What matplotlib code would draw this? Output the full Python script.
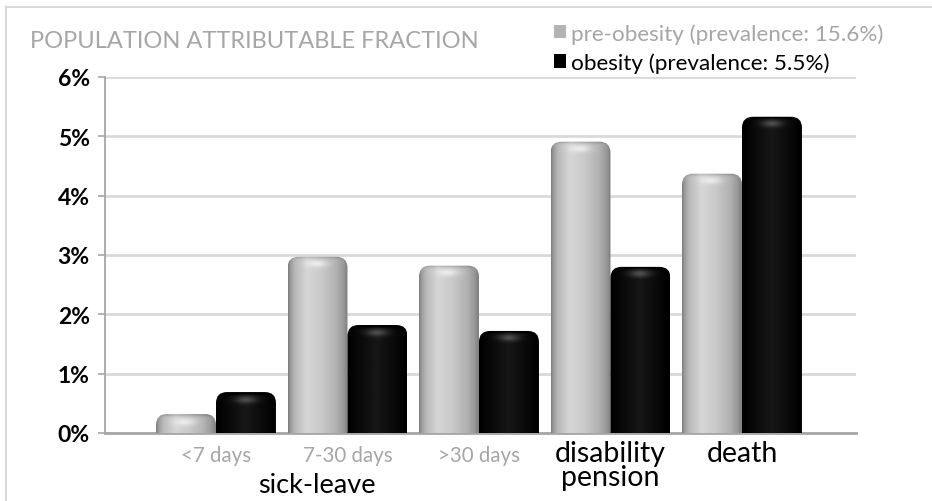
import numpy as np
import matplotlib
matplotlib.use('Agg')
import matplotlib.pyplot as plt
from matplotlib.patches import FancyBboxPatch, Patch
from matplotlib.lines import Line2D
import matplotlib.transforms as mtransforms

# ---- data ----
categories = ['<7 days', '7-30 days', '>30 days', 'disability\npension', 'death']
pre_obesity = [0.32, 2.97, 2.82, 4.91, 4.37]
obesity = [0.69, 1.82, 1.72, 2.80, 5.33]
yticks = [0, 1, 2, 3, 4, 5, 6]
ytick_labels = ['0%', '1%', '2%', '3%', '4%', '5%', '6%']
title = 'POPULATION ATTRIBUTABLE FRACTION'
legend_labels = ['pre-obesity (prevalence: 15.6%)', 'obesity (prevalence: 5.5%)']
group_label = 'sick-leave'

plt.rcParams['font.family'] = ['Lato', 'DejaVu Sans']

W, H = 932, 502
fig = plt.figure(figsize=(W / 100, H / 100), dpi=100)
ax = fig.add_axes([105 / W, 1 - 434 / H, (856 - 105) / W, (434 - 78) / H])

x = np.arange(len(categories))
w = 0.456
bars_pre = ax.bar(x - w / 2, pre_obesity, w, color='none', edgecolor='none')
bars_ob = ax.bar(x + w / 2, obesity, w, color='none', edgecolor='none')

ax.set_xlim(-0.844, 4.867)
ax.set_ylim(0, 6)

# pixel scales
fig.canvas.draw()
p0 = ax.transData.transform((0, 0))
p1 = ax.transData.transform((1, 1))
px_x = p1[0] - p0[0]
px_y = p1[1] - p0[1]


def profile(kind, u):
    if kind == 'gray':
        pts_u = [0.0, 0.04, 0.12, 0.32, 0.55, 0.8, 0.93, 1.0]
        pts_v = [0.50, 0.62, 0.73, 0.84, 0.79, 0.70, 0.60, 0.50]
    else:
        pts_u = [0.0, 0.1, 0.5, 0.9, 1.0]
        pts_v = [0.0, 0.02, 0.09, 0.02, 0.0]
    return np.interp(u, pts_u, pts_v)


def draw_bar(rect, kind):
    x0 = rect.get_x()
    bw = rect.get_width()
    h = rect.get_height()
    rad_px = 11
    r = rad_px / px_x
    aspect = px_x / px_y
    hp = max(int(h * px_y), 2)
    wp = max(int(bw * px_x), 2)
    u = np.linspace(0, 1, wp)
    d = np.arange(hp)[:, None]  # distance from top in px
    base = profile(kind, u)[None, :] * np.ones((hp, 1))
    amp = 0.12 if kind == 'gray' else 0.22
    cap = amp * np.exp(-((d - 7) / 3.5) ** 2) * np.exp(-((u[None, :] - 0.5) / 0.18) ** 2)
    edge = 0.12 * np.exp(-(d / 2.0) ** 2)
    img = np.clip(base + cap - edge, 0, 1)
    im = ax.imshow(img, extent=(x0, x0 + bw, 0, h), origin='upper', cmap='gray',
                   vmin=0, vmax=1, aspect='auto', zorder=3, interpolation='bilinear')
    clip = FancyBboxPatch((x0, -r * aspect), bw, h + r * aspect,
                          boxstyle=f'round,pad=0,rounding_size={r}',
                          mutation_aspect=aspect, transform=ax.transData,
                          facecolor='none', edgecolor='none')
    ax.add_patch(clip)
    im.set_clip_path(clip)


for rect in bars_pre:
    draw_bar(rect, 'gray')
for rect in bars_ob:
    draw_bar(rect, 'black')

ax.set_xlim(-0.844, 4.867)
ax.set_ylim(0, 6)

# grid and spines
ax.set_yticks(yticks)
ax.set_yticklabels(ytick_labels, fontsize=16.5, fontweight='bold', color='black')
ax.yaxis.grid(True, color='#d9d9d9', linewidth=2)
ax.set_axisbelow(True)
for s in ['top', 'right']:
    ax.spines[s].set_visible(False)
ax.spines['left'].set_color('#a6a6a6')
ax.spines['left'].set_linewidth(1.3)
ax.spines['bottom'].set_color('#a6a6a6')
ax.spines['bottom'].set_linewidth(2)
ax.tick_params(axis='y', length=5, width=1.2, color='#a6a6a6', pad=6)
ax.tick_params(axis='x', length=0, pad=5)

ax.set_xticks(x)
ax.set_xticklabels(categories, linespacing=0.9)
for i, lab in enumerate(ax.get_xticklabels()):
    if i < 3:
        lab.set_color('#a6a6a6')
        lab.set_fontsize(14.8)
        lab.set_y(-0.015)
    else:
        lab.set_color('black')
        lab.set_fontsize(20.5)

# group label
trans = mtransforms.blended_transform_factory(ax.transData, fig.transFigure)
fig.text(0.77, 1 - 486 / H, group_label, transform=trans, ha='center', va='center',
         fontsize=19.5, color='black')

# title
fig.text(30 / W, 1 - 42 / H, title, ha='left', va='center', fontsize=17, color='#a6a6a6')

# legend
handles = [Patch(facecolor='#b3b3b3', edgecolor='none'), Patch(facecolor='black', edgecolor='none')]
leg = fig.legend(handles, legend_labels, loc='upper left',
                 bbox_to_anchor=(554 / W, 1 - 24 / H), frameon=False,
                 handlelength=0.55, handleheight=0.55, handletextpad=0.2,
                 labelspacing=0.38, fontsize=16.2, borderaxespad=0, borderpad=0)
leg.get_texts()[0].set_color('#a6a6a6')
leg.get_texts()[1].set_color('black')

# frame lines
fig.add_artist(Line2D([6 / W, 1], [1 - 8 / H, 1 - 8 / H], transform=fig.transFigure,
                      color='#d9d9d9', linewidth=1.5))
fig.add_artist(Line2D([6 / W, 6 / W], [0, 1 - 8 / H], transform=fig.transFigure,
                      color='#d9d9d9', linewidth=1.5))

fig.savefig('out.png', dpi=100)
